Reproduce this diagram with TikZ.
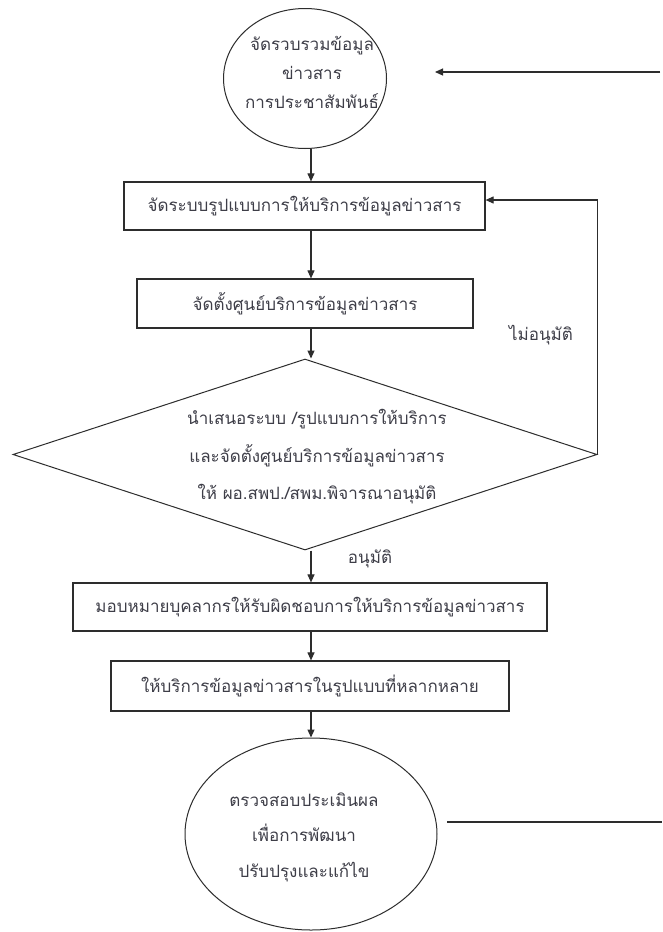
\documentclass[tikz,border=0pt]{standalone}
\usepackage{fontspec}
\newfontfamily\thai[Script=Thai]{Loma}
\usetikzlibrary{shapes.geometric,arrows.meta}
\definecolor{txtc}{RGB}{62,62,72}
\definecolor{linc}{RGB}{45,45,45}
\begin{document}
\begin{tikzpicture}[x=1pt,y=-1pt,
  lin/.style={draw=linc, line width=1.1pt},
  arr/.style={lin, -{Triangle[length=8pt,width=7pt]}},
  stepbox/.style={draw=linc, line width=1.2pt, rectangle, inner sep=0pt, text=txtc, font=\thai\fontsize{17}{18}\selectfont},
  oval/.style={draw=linc, line width=1pt, ellipse, inner sep=0pt},
  decide/.style={draw=linc, line width=1pt, diamond, inner sep=0pt},
  txt/.style={text=txtc, align=center, inner sep=0pt}
]
\path[fill=white, use as bounding box] (0,0) rectangle (662,932);
\coordinate (axis) at (311,0);

% top ellipse
\node[oval, minimum width=163pt, minimum height=140pt] (e1) at (305,78.5) {};
\node[txt, font=\thai\fontsize{17}{29}\selectfont] (e1t) at (312,72) {จัดรวบรวมข้อมูล\\ข่าวสาร\\การประชาสัมพันธ์};

% incoming arrow
\coordinate (inR) at (660,72);
\coordinate (inL) at (435,72);
\draw[arr] (inR) -- (inL);

% boxes
\node[stepbox, minimum width=361pt, minimum height=48pt] (b1) at (304.5,206) {จัดระบบรูปแบบการให้บริการข้อมูลข่าวสาร};
\node[stepbox, minimum width=336pt, minimum height=49pt] (b2) at (305,303.5) {จัดตั้งศูนย์บริการข้อมูลข่าวสาร};

% decision
\node[decide, minimum width=584pt, minimum height=191pt] (d) at (305,454.5) {};
\node[txt, font=\thai\fontsize{17}{37.5}\selectfont] (dt) at (317,457) {นำเสนอระบบ /รูปแบบการให้บริการ\\และจัดตั้งศูนย์บริการข้อมูลข่าวสาร\\ให้ ผอ.สพป./สพม.พิจารณาอนุมัติ};

\node[stepbox, minimum width=474pt, minimum height=48pt] (b3) at (310,607) {มอบหมายบุคลากรให้รับผิดชอบการให้บริการข้อมูลข่าวสาร};
\node[stepbox, minimum width=398pt, minimum height=50pt] (b4) at (310,686) {ให้บริการข้อมูลข่าวสารในรูปแบบที่หลากหลาย};

% bottom ellipse
\node[oval, minimum width=252pt, minimum height=192pt] (e2) at (311,834) {};
\node[txt, font=\thai\fontsize{17}{35.5}\selectfont] (e2t) at (304,837) {ตรวจสอบประเมินผล\\เพื่อการพัฒนา\\ปรับปรุงและแก้ไข};

% outgoing line
\coordinate (outL) at (447,822);
\coordinate (outR) at (662,822);
\draw[lin] (outL) -- (outR);

% main flow
\draw[arr] (e1.south -| axis) -- (b1.north -| axis);
\draw[arr] (b1.south -| axis) -- (b2.north -| axis);
\draw[arr] (b2.south -| axis) -- (d.north -| axis);
\draw[arr] (d.south -| axis) -- (b3.north -| axis);
\draw[arr] (b3.south -| axis) -- (b4.north -| axis);
\draw[arr] (b4.south -| axis) -- (e2.north -| axis);

% feedback
\coordinate (fb) at (597,200);
\draw[arr] (d.east) -- (d.east |- fb) -- (fb -| b1.east);

% labels
\node[txt, font=\thai\fontsize{17}{18}\selectfont] (no) at (541,335) {ไม่อนุมัติ};
\node[txt, font=\thai\fontsize{17}{18}\selectfont] (yes) at (370,559) {อนุมัติ};
\end{tikzpicture}
\end{document}
